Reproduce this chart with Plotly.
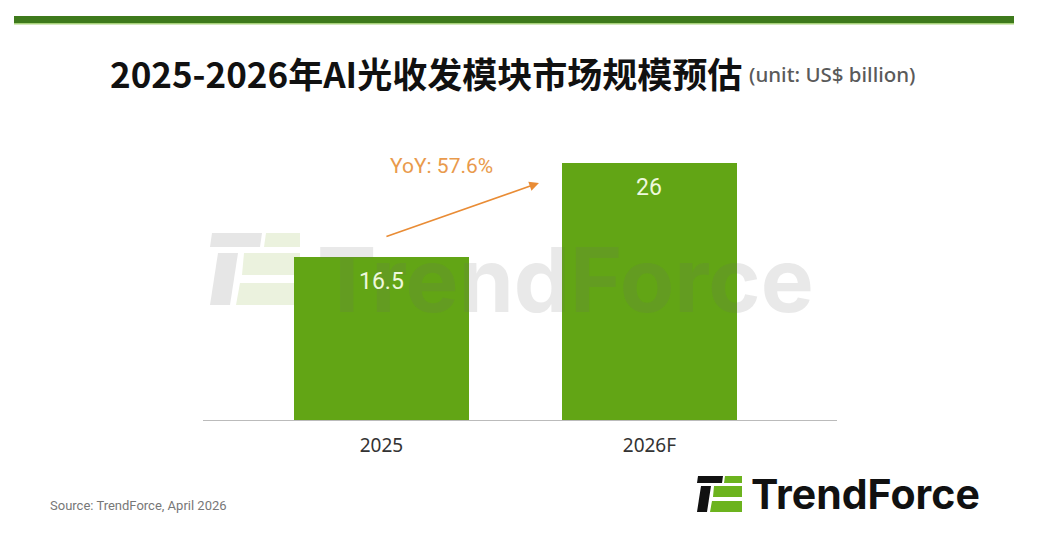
import plotly.graph_objects as go

categories = ["2025", "2026F"]
values = [16.5, 26]
value_labels = ["16.5", "26"]
yoy_text = "YoY: 57.6%"
title_text = "2025-2026年AI光收发模块市场规模预估"
unit_text = "(unit: US$ billion)"
source_text = "Source: TrendForce, April 2026"

W, H = 1037, 536
L, R, T, B = 203, 200, 140, 116
PW, PH = W - L - R, H - T - B

def px(x):
    return (x - L) / PW

def py(y):
    return (H - B - y) / PH

fig = go.Figure()
fig.add_trace(go.Bar(
    x=[0, 1], y=values, width=0.653,
    marker=dict(color="#62a515", line=dict(width=0)),
    hoverinfo="skip",
))

shapes = []
# top band
shapes.append(dict(type="rect", xref="paper", yref="paper", x0=px(14), x1=px(1014), y0=py(23), y1=py(16),
                   fillcolor="#3e7a1c", line=dict(width=0), layer="below"))
shapes.append(dict(type="rect", xref="paper", yref="paper", x0=px(14), x1=px(1014), y0=py(24.5), y1=py(23),
                   fillcolor="#a8d27a", line=dict(width=0), layer="below"))

def icon(x0, y0, s, black, green, layer):
    def P(pts, col):
        d = "M " + " L ".join(f"{px(x0 + a * s)},{py(y0 + b * s)}" for a, b in pts) + " Z"
        shapes.append(dict(type="path", xref="paper", yref="paper", path=d, fillcolor=col,
                           line=dict(width=0), layer=layer))
    P([(1, 0), (26, 0), (25, 7), (0, 7)], black)
    P([(28, 0), (45, 0), (45, 7), (27, 7)], green)
    P([(4, 10), (14, 10), (10, 36), (0, 36)], black)
    P([(17, 10), (45, 10), (45, 21), (16, 21)], green)
    P([(15, 25), (45, 25), (45, 36), (13, 36)], green)

# watermark
icon(210, 233, 2.0, "rgba(200,200,200,0.45)", "rgba(215,230,190,0.5)", "below")
# logo
icon(697, 476, 1.0, "#111111", "#6cb31e", "above")

annotations = [
    dict(text="TrendForce", xref="paper", yref="paper", x=px(315), y=py(279), xanchor="left", yanchor="middle",
         showarrow=False, font=dict(size=89, color="rgba(110,110,110,0.15)", family="Inter", weight="bold")),
    dict(text=title_text, xref="paper", yref="paper", x=px(108), y=py(72), xanchor="left", yanchor="middle",
         showarrow=False, font=dict(size=35, color="#111111", family="Noto Sans CJK SC", weight="bold")),
    dict(text=unit_text, xref="paper", yref="paper", x=px(747), y=py(74), xanchor="left", yanchor="middle",
         showarrow=False, font=dict(size=20.5, color="#5a5a5a", family="Noto Sans", weight=500)),
    dict(text=yoy_text, x=(442 - 381.5) / 268, y=(420 - 166) / 9.9, xref="x", yref="y",
         showarrow=False, font=dict(size=21, color="#e99a4c", family="Roboto")),
    dict(text="", x=(539 - 381.5) / 268, y=(420 - 183) / 9.9, xref="x", yref="y",
         ax=-154, ay=54, showarrow=True, arrowhead=2, arrowsize=1.2, arrowwidth=1.6, arrowcolor="#e98c35"),
    dict(text=source_text, xref="paper", yref="paper", x=px(48), y=py(505), xanchor="left", yanchor="middle",
         showarrow=False, font=dict(size=13, color="#777777", family="Roboto")),
    dict(text="TrendForce", xref="paper", yref="paper", x=px(749), y=py(494), xanchor="left", yanchor="middle",
         showarrow=False, font=dict(size=41, color="#111111", family="Inter", weight="bold")),
]
for i, (v, lab) in enumerate(zip(values, value_labels)):
    annotations.append(dict(text=lab, x=i, y=v, xref="x", yref="y", yshift=-25, showarrow=False,
                            yanchor="middle", font=dict(size=23, color="#eef8dc", family="Roboto")))

fig.update_layout(
    width=W, height=H, margin=dict(l=L, r=R, t=T, b=B, autoexpand=False),
    paper_bgcolor="white", plot_bgcolor="white", showlegend=False,
    shapes=shapes, annotations=annotations, bargap=0,
    xaxis=dict(range=[-0.666, 1.70], tickvals=[0, 1], ticktext=categories, showgrid=False, zeroline=False,
               showline=True, linecolor="#bbbbbb", linewidth=1, ticks="", ticklabelstandoff=8,
               tickfont=dict(size=19, color="#333333", family="Noto Sans"), fixedrange=True),
    yaxis=dict(range=[0, 28.28], visible=False, fixedrange=True),
)

fig.write_html("out.html")
